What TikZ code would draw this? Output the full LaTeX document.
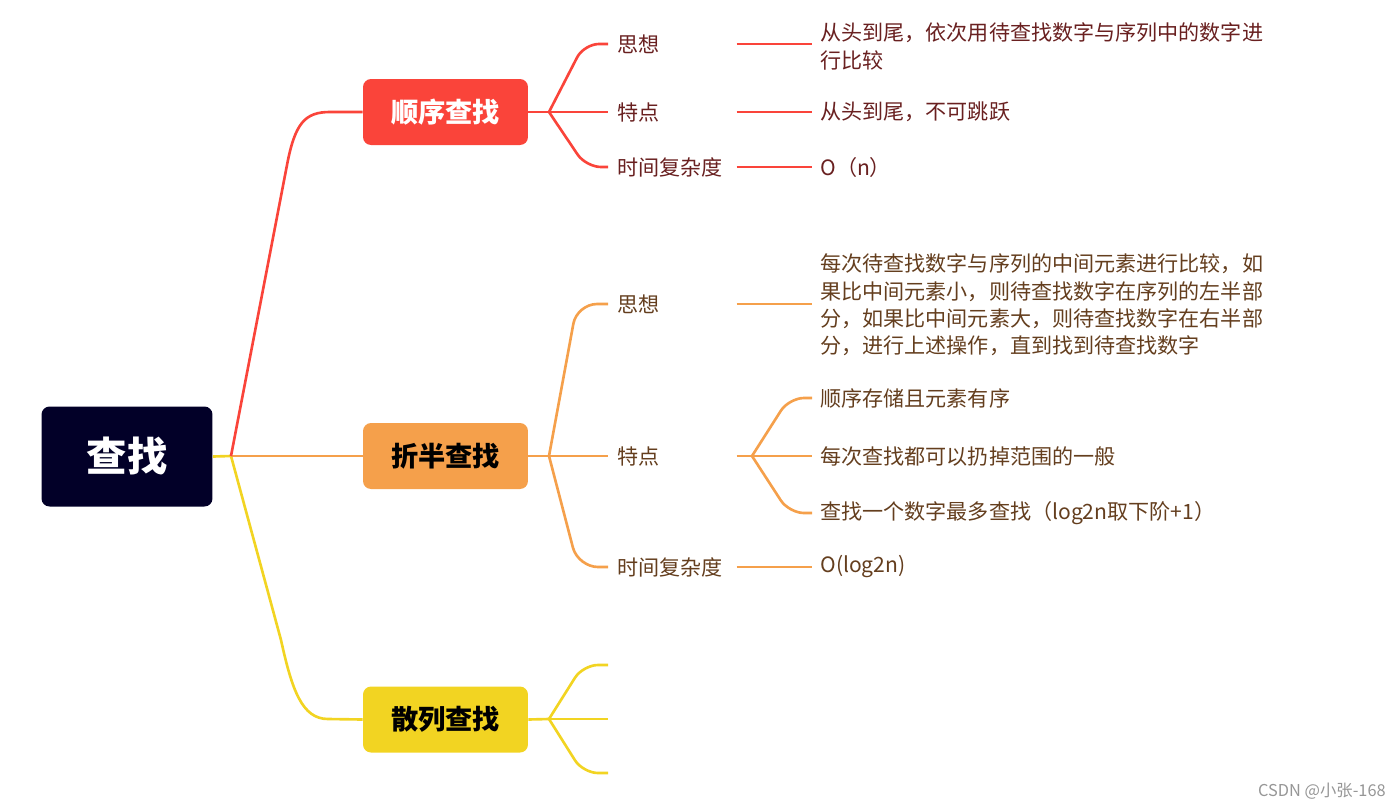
\documentclass[tikz,border=0pt]{standalone}
\usepackage{fontspec}
\setmainfont{Noto Sans CJK SC}
\definecolor{rootc}{RGB}{2,0,40}
\definecolor{redc}{RGB}{250,68,58}
\definecolor{orangec}{RGB}{245,160,75}
\definecolor{yellowc}{RGB}{242,212,34}
\definecolor{redtxt}{RGB}{105,32,32}
\definecolor{orangetxt}{RGB}{100,62,30}
\begin{document}
\begin{tikzpicture}[x=0.02cm,y=-0.02cm,
  rootbox/.style={rounded corners=0.16cm, fill=rootc, text=white, minimum width=3.42cm, minimum height=2cm, inner sep=0, font=\fontsize{23}{26}\selectfont\bfseries},
  box/.style={rounded corners=0.16cm, minimum width=3.3cm, minimum height=1.32cm, inner sep=0, font=\fontsize{15.5}{18}\selectfont\bfseries},
  lab/.style={anchor=west, inner xsep=0.18cm, inner ysep=1pt, text width=2.2cm, align=left, font=\fontsize{12}{15.6}\selectfont},
  leaf/.style={anchor=west, inner xsep=0.16cm, inner ysep=1pt, align=left, font=\fontsize{12}{15.6}\selectfont},
  conn/.style={line width=1.5pt},
  rl/.style={conn, draw=redc},
  ol/.style={conn, draw=orangec},
  yl/.style={conn, draw=yellowc},
  sub/.style={rounded corners=0.3cm}
]
\useasboundingbox (0,0) rectangle (1400,809);

% root and main boxes
\node[rootbox] (root) at (127,456.5) {查找};
\node[box, fill=redc, text=white] (red) at (445.5,112) {顺序查找};
\node[box, fill=orangec, text=black] (ora) at (445.5,456) {折半查找};
\node[box, fill=yellowc, text=black] (yel) at (445.5,719.5) {散列查找};
\coordinate (J) at (231,456);

% main connectors
\draw[yl] (root.east) -- (J);
\draw[yl] (J) -- (281,640) .. controls (292,690) and (302,719) .. (328,719) -- (yel.west);
\draw[ol] (J) -- (ora.west);
\draw[rl] (J) -- (287,165) .. controls (295,123) and (305,112) .. (330,112) -- (red.west);

% ---- red branch ----
\coordinate (jr) at (549,112);
\node[lab, text=redtxt] (r1) at (608,44) {思想};
\node[lab, text=redtxt] (r2) at (608,112) {特点};
\node[lab, text=redtxt] (r3) at (608,167) {时间复杂度};
\node[leaf, text=redtxt] (r1l) at (812,46.5) {从头到尾，依次用待查找数字与序列中的数字进\\行比较};
\node[leaf, text=redtxt] (r2l) at (812,112) {从头到尾，不可跳跃};
\node[leaf, text=redtxt] (r3l) at (812,167) {O（n）};
\draw[rl] (red.east) -- (jr);
\draw[rl, sub] (jr) -- (584,44) -- (r1.west);
\draw[rl] (jr) -- (r2.west);
\draw[rl, sub] (jr) -- (586,167) -- (r3.west);
\draw[rl] (r1.east) -- (r1.east -| r1l.west);
\draw[rl] (r2.east) -- (r2.east -| r2l.west);
\draw[rl] (r3.east) -- (r3.east -| r3l.west);

% ---- orange branch ----
\coordinate (jo) at (549,456);
\node[lab, text=orangetxt] (o1) at (608,304) {思想};
\node[lab, text=orangetxt] (o2) at (608,456) {特点};
\node[lab, text=orangetxt] (o3) at (608,567) {时间复杂度};
\node[leaf, text=orangetxt] (o1l) at (812,305) {每次待查找数字与序列的中间元素进行比较，如\\果比中间元素小，则待查找数字在序列的左半部\\分，如果比中间元素大，则待查找数字在右半部\\分，进行上述操作，直到找到待查找数字};
\node[leaf, text=orangetxt] (o2a) at (812,398) {顺序存储且元素有序};
\node[leaf, text=orangetxt] (o2b) at (812,456) {每次查找都可以扔掉范围的一般};
\node[leaf, text=orangetxt] (o2c) at (812,513) {查找一个数字最多查找（log2n取下阶+1）};
\node[leaf, text=orangetxt] (o3l) at (812,567) {O(log2n)};
\draw[ol] (ora.east) -- (jo);
\draw[ol, rounded corners=0.4cm] (jo) -- (577,304) -- (o1.west);
\draw[ol] (jo) -- (o2.west);
\draw[ol, rounded corners=0.4cm] (jo) -- (578,567) -- (o3.west);
\draw[ol] (o1.east) -- (o1.east -| o1l.west);
\draw[ol] (o3.east) -- (o3.east -| o3l.west);
\coordinate (jt) at (752,456);
\draw[ol] (o2.east) -- (jt);
\draw[ol, sub] (jt) -- (789,398) -- (o2a.west);
\draw[ol] (jt) -- (o2b.west);
\draw[ol, sub] (jt) -- (789,513) -- (o2c.west);

% ---- yellow branch ----
\coordinate (jy) at (549,719);
\coordinate (y1) at (608,665);
\coordinate (y2) at (608,719);
\coordinate (y3) at (608,773);
\draw[yl] (yel.east) -- (jy);
\draw[yl, sub] (jy) -- (583,665) -- (y1);
\draw[yl] (jy) -- (y2);
\draw[yl, sub] (jy) -- (583,773) -- (y3);

% watermark
\node[anchor=east, inner sep=0, text={rgb,255:red,150;green,150;blue,150}, font=\fontsize{9.3}{11}\selectfont] (wm) at (1386,791) {CSDN @小张-168};
\end{tikzpicture}
\end{document}
